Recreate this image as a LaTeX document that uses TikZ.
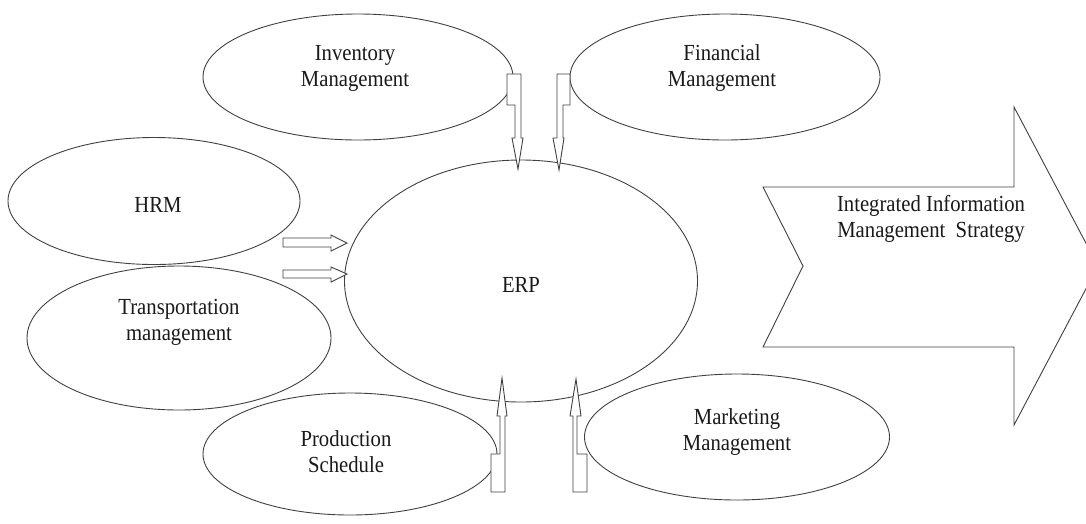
\documentclass[tikz,border=0pt]{standalone}
\usepackage{fontspec}
\setmainfont{Liberation Serif}[FakeStretch=0.9]
\usetikzlibrary{shapes.geometric}
\begin{document}
\begin{tikzpicture}[x=1pt,y=-1pt,
  oval/.style={draw=black!75, line width=0.9pt, ellipse, inner sep=0pt},
  lbl/.style={align=center, font=\fontsize{23}{26}\selectfont, inner sep=0pt, text=black!90},
  blk/.style={draw=black!75, line width=0.9pt, fill=white, line join=miter}]
\useasboundingbox (0,0) rectangle (1086,523);
% big arrow
\draw[blk] (763,187) -- (1014,187) -- (1014,107) -- (1098,266) -- (1014,425)
  -- (1014,347) -- (763,347) -- (803,266) -- cycle;
\node[lbl] (strat) at (931,219) {Integrated Information\\Management\ \ Strategy};
% ellipses
\node[oval, minimum width=310pt, minimum height=126pt] (inv) at (358,77) {};
\node[oval, minimum width=310pt, minimum height=126pt] (fin) at (725,77) {};
\node[oval, minimum width=292pt, minimum height=127pt] (hrm) at (154,201) {};
\node[oval, minimum width=304pt, minimum height=144pt] (trn) at (179,338) {};
\node[oval, minimum width=353pt, minimum height=242pt] (erp) at (521,281) {};
\node[oval, minimum width=294pt, minimum height=122pt] (pro) at (350,454) {};
\node[oval, minimum width=305pt, minimum height=126pt] (mkt) at (737,437) {};
% labels
\node[lbl] (tinv) at (355,68) {Inventory\\Management};
\node[lbl] (tfin) at (722,68) {Financial\\Management};
\node[lbl] (thrm) at (158,205) {HRM};
\node[lbl] (ttrn) at (179,322) {Transportation\\management};
\node[lbl] (terp) at (521,285) {ERP};
\node[lbl] (tpro) at (346,452) {Production\\Schedule};
\node[lbl] (tmkt) at (737,432) {Marketing\\Management};
% block arrows top
\draw[blk] (507,74) -- (521,74) -- (521,138) -- (523,138) -- (518,169) -- (512,138)
  -- (515,138) -- (515,105) -- (507,105) -- cycle;
\draw[blk] (557,74) -- (570,74) -- (570,105) -- (563,105) -- (563,138) -- (564,138)
  -- (559,170) -- (553,138) -- (557,138) -- cycle;
% block arrows bottom
\draw[blk] (502,378) -- (507,416) -- (505,416) -- (505,492) -- (491,492) -- (491,454)
  -- (500,454) -- (500,416) -- (497,416) -- cycle;
\draw[blk] (576,379) -- (581,416) -- (577,416) -- (577,454) -- (587,454) -- (587,492)
  -- (573,492) -- (573,416) -- (570,416) -- cycle;
% horizontal arrows
\draw[blk] (283,238) -- (331,238) -- (331,235) -- (347,243) -- (331,251) -- (331,247)
  -- (283,247) -- cycle;
\draw[blk] (283,270) -- (331,270) -- (331,267) -- (347,274) -- (331,282) -- (331,278)
  -- (283,278) -- cycle;
\end{tikzpicture}
\end{document}
